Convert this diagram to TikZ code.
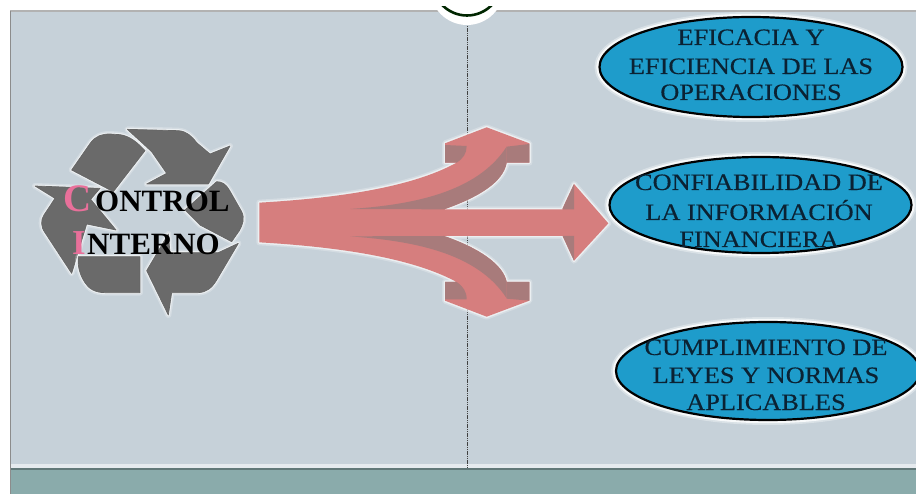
\documentclass[tikz,border=0pt]{standalone}
\usepackage{fontspec}
\setmainfont{Liberation Serif}
\newfontfamily\ovalfont[FakeBold=.35]{Liberation Serif}
\usetikzlibrary{shapes.geometric}
\definecolor{panelc}{HTML}{C6D1D9}
\definecolor{bandc}{HTML}{8AABAB}
\definecolor{ovalc}{HTML}{1E9CCB}
\definecolor{arrowc}{HTML}{D67E7E}
\definecolor{arrowd}{HTML}{A87B7B}
\definecolor{grayc}{HTML}{6A6A6A}
\definecolor{inkc}{HTML}{0B2233}
\definecolor{pinkc}{HTML}{E8709A}
\tikzset{
  halo/.style={preaction={draw=white,line width=6pt,opacity=.25,line join=round},
               preaction={draw=white,line width=3pt,opacity=.55,line join=round}},
  recy/.style={fill=grayc,draw=black!60,line width=.7pt,line join=round,halo},
  oval/.style={ellipse,draw=black,line width=2.2pt,fill=ovalc,inner sep=0pt,
     preaction={draw=white,line width=10pt,opacity=.35},
     preaction={draw=white,line width=6.5pt,opacity=.8}},
  ovaltext/.style={font=\ovalfont\fontsize{23.5}{27}\selectfont,text=inkc,xscale=1.12,transform shape,inner sep=0pt,anchor=base},
  cilabel/.style={font=\fontsize{31}{32}\selectfont\bfseries,text=black,inner sep=0pt,anchor=base west},
}
\begin{document}
\begin{tikzpicture}[x=1pt,y=-1pt]
\useasboundingbox (0,0) rectangle (916,494);
\clip (0,0) rectangle (916,494);
\fill[white] (0,0) rectangle (916,494);
% panel and bands
\fill[panelc] (10,11) rectangle (916,468);
\fill[black!30] (10,10.5) rectangle (916,12.5);
\fill[black!45] (9.5,11) rectangle (11,494);
\fill[white!55!panelc] (11,464) rectangle (916,468);
\fill[bandc] (11,468) rectangle (916,494);
\fill[bandc!70!black] (11,468) rectangle (916,470);
% dotted divider and top circle
\coordinate (dtop) at (467,24);
\coordinate (dbot) at (467,468);
\draw[black!75,line width=.9pt,dash pattern=on 1.2pt off .6pt] (dtop) -- (dbot);
\fill[white] (467,-12) circle (37);
\begin{scope}
\clip (430,6.5) rectangle (505,30);
\draw[black!85!green,line width=2.6pt] (467,-19) circle (34.5);
\end{scope}
% recycling symbol
\begin{scope}[shift={(20,110)},scale=.33333]
\path[recy] (322,58) -- (475,62) .. controls (500,64) and (515,78) .. (530,98) -- (570,132) -- (630,108) -- (565,222) -- (380,222) -- (440,190) -- (395,125) -- (322,58) -- cycle;
\path[recy] (155,180) -- (212,98) .. controls (228,78) and (245,72) .. (270,72) -- (300,74) .. controls (330,78) and (355,100) .. (375,122) -- (280,245) -- cycle;
\path[recy] (45,228) -- (240,235) -- (212,268) -- (288,360) -- (200,342) -- (155,490) -- (75,368) .. controls (62,350) and (62,330) .. (72,315) -- (105,265) -- cycle;
\path[recy] (175,440) -- (360,440) -- (360,548) -- (255,548) .. controls (225,548) and (205,535) .. (195,518) .. controls (180,495) and (172,470) .. (175,440) -- cycle;
\path[recy] (655,400) -- (590,510) .. controls (575,535) and (560,546) .. (535,548) -- (455,548) -- (445,615) -- (380,482) -- (445,372) -- (450,428) -- (595,428) -- cycle;
\path[recy] (495,300) -- (590,215) .. controls (605,215) and (618,222) .. (628,240) -- (665,305) .. controls (675,325) and (668,345) .. (658,362) -- (635,395) -- (540,345) -- cycle;
\end{scope}
\node[cilabel] (cBig) at (63,212) {\fontsize{39}{39}\selectfont\color{pinkc}C};
\node[cilabel] (cRest) at (95,212) {ONTROL};
\node[cilabel] (iBig) at (72,255) {\fontsize{35}{35}\selectfont\color{pinkc}I};
\node[cilabel] (iRest) at (87,255) {NTERNO};
% triple arrow
\begin{scope}[shift={(250,110)},scale=.33333]
\path[fill=arrowc,halo] (28,278) .. controls (250,265) and (480,235) .. (620,158) -- (585,158) -- (585,100) -- (710,52) -- (838,100) -- (838,158) -- (770,158)
   .. controls (760,215) and (690,260) .. (582,298) -- (938,298) -- (938,295) -- (972,222) -- (1075,340) -- (972,452) -- (938,378) -- (582,378)
   .. controls (690,415) and (760,465) .. (770,516) -- (838,516) -- (838,572) -- (710,620) -- (585,572) -- (585,516) -- (620,516)
   .. controls (480,440) and (250,410) .. (28,397) -- cycle;
\fill[arrowd] (300,297) .. controls (480,285) and (680,250) .. (770,110) -- (770,158) .. controls (760,215) and (690,260) .. (582,298) -- cycle;
\fill[arrowd] (300,379) .. controls (480,392) and (680,425) .. (770,565) -- (770,516) .. controls (760,465) and (690,415) .. (582,378) -- cycle;
\fill[arrowd] (585,105) -- (650,108) .. controls (650,130) and (640,145) .. (620,158) -- (585,158) -- cycle;
\fill[arrowd] (770,110) -- (838,102) -- (838,158) -- (770,158) -- cycle;
\fill[arrowd] (585,568) -- (650,568) .. controls (650,545) and (640,530) .. (620,516) -- (585,516) -- cycle;
\fill[arrowd] (770,566) -- (838,572) -- (838,516) -- (770,516) -- cycle;
\fill[arrowd] (938,298) -- (938,295) -- (972,222) -- (972,298) -- cycle;
\fill[arrowd] (938,378) -- (972,452) -- (972,378) -- cycle;
\end{scope}
% ovals
\node[oval,minimum width=303pt,minimum height=100pt] (o1) at (751,67) {};
\node[oval,minimum width=302pt,minimum height=96pt] (o2) at (760.5,205) {};
\node[oval,minimum width=304pt,minimum height=98pt] (o3) at (768,371) {};
\node[ovaltext] (t1a) at (751,45) {EFICACIA Y};
\node[ovaltext] (t1b) at (751,74) {EFICIENCIA DE LAS};
\node[ovaltext] (t1c) at (751,100) {OPERACIONES};
\node[ovaltext] (t2a) at (759,190) {CONFIABILIDAD DE};
\node[ovaltext] (t2b) at (759,220) {LA INFORMACIÓN};
\node[ovaltext] (t2c) at (759,247) {FINANCIERA};
\node[ovaltext] (t3a) at (766,355) {CUMPLIMIENTO DE};
\node[ovaltext] (t3b) at (766,383) {LEYES Y NORMAS};
\node[ovaltext] (t3c) at (766,410) {APLICABLES};
\end{tikzpicture}
\end{document}
